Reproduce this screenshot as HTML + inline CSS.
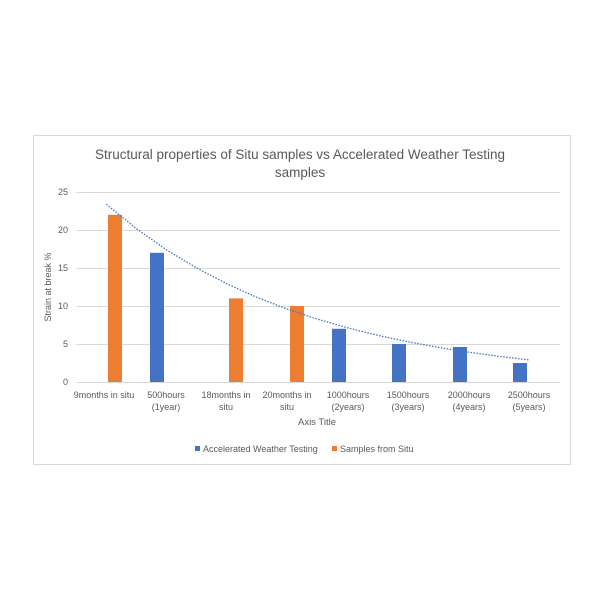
<!DOCTYPE html>
<html><head><meta charset="utf-8"><style>
body{margin:0;background:#fff;}
svg text{font-family:"Liberation Sans",sans-serif;fill:#595959;}
</style></head><body>
<svg width="600" height="600" viewBox="0 0 600 600" xmlns="http://www.w3.org/2000/svg">
<rect x="33.5" y="135.5" width="537" height="329" fill="#fff" stroke="#d9d9d9"/>
<text x="300" y="159" font-size="13.5" text-anchor="middle">Structural properties of Situ samples vs Accelerated Weather Testing</text>
<text x="300" y="177" font-size="13.5" text-anchor="middle">samples</text>
<g stroke="#d9d9d9" stroke-width="1">
<line x1="76" x2="560" y1="192.5" y2="192.5"/>
<line x1="76" x2="560" y1="230.5" y2="230.5"/>
<line x1="76" x2="560" y1="268.5" y2="268.5"/>
<line x1="76" x2="560" y1="306.5" y2="306.5"/>
<line x1="76" x2="560" y1="344.5" y2="344.5"/>
<line x1="76" x2="560" y1="382.5" y2="382.5"/>
</g>
<g font-size="9" text-anchor="end">
<text x="68" y="195">25</text><text x="68" y="233">20</text><text x="68" y="271">15</text>
<text x="68" y="309">10</text><text x="68" y="347">5</text><text x="68" y="385">0</text>
</g>
<text transform="translate(51,287) rotate(-90)" font-size="9" text-anchor="middle">Strain at break %</text>
<g fill="#ed7d31">
<rect x="108" y="214.8" width="14" height="167.2"/>
<rect x="229" y="298.4" width="14" height="83.6"/>
<rect x="290" y="306" width="14" height="76"/>
</g>
<g fill="#4472c4">
<rect x="150" y="252.8" width="14" height="129.2"/>
<rect x="332" y="328.8" width="14" height="53.2"/>
<rect x="392" y="344" width="14" height="38"/>
<rect x="453" y="347" width="14" height="35"/>
<rect x="513" y="363" width="14" height="19"/>
</g>
<polyline fill="none" stroke="#4472c4" stroke-width="1.3" stroke-dasharray="1.5,1.5" points="106.25,204.2 136.5,228.8 166.75,250 197,268.2 227.25,284 257.5,297.6 287.75,309.3 318,319.3 348.25,328 378.5,335.5 408.75,341.9 439,347.5 469.25,352.3 499.5,356.4 529.75,360"/>
<g font-size="9" text-anchor="middle">
<text x="104" y="398">9months in situ</text>
<text x="166" y="398">500hours</text><text x="166" y="410">(1year)</text>
<text x="226" y="398">18months in</text><text x="226" y="410">situ</text>
<text x="287" y="398">20months in</text><text x="287" y="410">situ</text>
<text x="348" y="398">1000hours</text><text x="348" y="410">(2years)</text>
<text x="408" y="398">1500hours</text><text x="408" y="410">(3years)</text>
<text x="469" y="398">2000hours</text><text x="469" y="410">(4years)</text>
<text x="529" y="398">2500hours</text><text x="529" y="410">(5years)</text>
</g>
<text x="317" y="425" font-size="9.5" text-anchor="middle">Axis Title</text>
<rect x="195" y="446" width="5" height="5" fill="#4472c4"/>
<text x="203" y="452" font-size="9">Accelerated Weather Testing</text>
<rect x="332" y="446" width="5" height="5" fill="#ed7d31"/>
<text x="340" y="452" font-size="9">Samples from Situ</text>
</svg>
</body></html>
